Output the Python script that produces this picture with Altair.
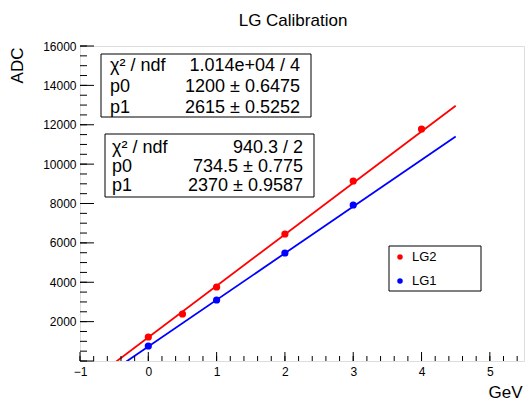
import altair as alt
import pandas as pd

# ---- data ----
lg2_x = [0, 0.5, 1, 2, 3, 4]
lg2_y = [1219, 2387, 3759, 6450, 9143, 11784]
lg1_x = [0, 1, 2, 3]
lg1_y = [762, 3098, 5486, 7924]

series_names = ["LG2", "LG1"]
series_colors = ["#ff0000", "#0000ff"]
fit_p0 = [1200, 734.5]
fit_p1 = [2615, 2370]
fit_range = [-0.5, 4.5]

stat_labels = ["χ² / ndf", "p0", "p1"]
stat_lg2 = ["1.014e+04 / 4", "1200 ± 0.6475", "2615 ± 0.5252"]
stat_lg1 = ["940.3 / 2", "734.5 ± 0.775", "2370 ± 0.9587"]

x_domain = [-1, 5.5]
y_domain = [0, 16000]
x_major = [-1, 0, 1, 2, 3, 4, 5]
x_minor = [round(-1 + 0.2 * i, 1) for i in range(33)]
y_major = [0, 2000, 4000, 6000, 8000, 10000, 12000, 14000, 16000]
y_labels = [2000, 4000, 6000, 8000, 10000, 12000, 14000, 16000]
y_minor = list(range(0, 16001, 500))

FONT = "Liberation Sans"
W, H = 444, 315

# ---- tables ----
points = pd.concat([
    pd.DataFrame({"series": "LG2", "x": lg2_x, "y": lg2_y}),
    pd.DataFrame({"series": "LG1", "x": lg1_x, "y": lg1_y}),
])
fit_rows = []
for name, a, b in zip(series_names, fit_p0, fit_p1):
    for xv in fit_range:
        fit_rows.append({"series": name, "x": xv, "y": a + b * xv})
fits = pd.DataFrame(fit_rows)

xs = alt.Scale(domain=x_domain, nice=False, zero=False)
ys = alt.Scale(domain=y_domain, nice=False, zero=False)
cs = alt.Scale(domain=series_names, range=series_colors)

x_axis = alt.Axis(values=x_major, format="d", ticks=False, domain=False, grid=False,
                  labelFlush=False, labelOverlap=False,
                  labelFont=FONT, labelFontSize=12, labelColor="black", labelPadding=5,
                  title="GeV", titleFont=FONT, titleFontSize=17, titleFontWeight="normal",
                  titleColor="black", titleX=425, titleY=31, titleAlign="center",
                  titleBaseline="middle")
y_axis = alt.Axis(values=y_labels, format="d", ticks=False, domain=False, grid=False,
                  labelFlush=False, labelOverlap=False,
                  labelFont=FONT, labelFontSize=12, labelColor="black", labelPadding=4,
                  title="ADC", titleFont=FONT, titleFontSize=17, titleFontWeight="normal",
                  titleColor="black", titleAngle=270, titleX=-63, titleY=19,
                  titleAlign="center", titleBaseline="middle")

fit_layer = alt.Chart(fits).mark_line(clip=True, strokeWidth=1.8).encode(
    x=alt.X("x:Q", scale=xs, axis=x_axis),
    y=alt.Y("y:Q", scale=ys, axis=y_axis),
    color=alt.Color("series:N", scale=cs, legend=None),
    detail="series:N",
)
pts_layer = alt.Chart(points).mark_circle(size=52, opacity=1).encode(
    x=alt.X("x:Q", scale=xs),
    y=alt.Y("y:Q", scale=ys),
    color=alt.Color("series:N", scale=cs, legend=None),
)

def yticks(vals, length):
    return alt.Chart(pd.DataFrame({"v": vals})).mark_rule(color="black", strokeWidth=1).encode(
        y=alt.Y("v:Q", scale=ys), x=alt.value(0), x2=alt.value(length))

def xticks(vals, length):
    return alt.Chart(pd.DataFrame({"v": vals})).mark_rule(color="black", strokeWidth=1).encode(
        x=alt.X("v:Q", scale=xs), y=alt.value(H), y2=alt.value(H - length))

def stat_box(x0, x1, y0, y1, labels, values, tx, vx, ty, lh):
    box = alt.Chart(pd.DataFrame({"k": [0]})).mark_rect(
        fill="white", stroke="black", strokeWidth=1).encode(
        x=alt.value(x0), x2=alt.value(x1), y=alt.value(y0), y2=alt.value(y1))
    lab = alt.Chart(pd.DataFrame({"t": ["\n".join(labels)]})).mark_text(
        align="left", baseline="alphabetic", lineBreak="\n", lineHeight=lh,
        font=FONT, fontSize=18, color="black").encode(
        x=alt.value(tx), y=alt.value(ty), text="t:N")
    val = alt.Chart(pd.DataFrame({"t": ["\n".join(values)]})).mark_text(
        align="right", baseline="alphabetic", lineBreak="\n", lineHeight=lh,
        font=FONT, fontSize=18, color="black").encode(
        x=alt.value(vx), y=alt.value(ty), text="t:N")
    return [box, lab, val]

box1 = stat_box(21, 231, 8, 71, stat_labels, stat_lg2, 30, 220, 25, 21)
box2 = stat_box(25, 234, 88, 151, stat_labels, stat_lg1, 32, 223, 107, 19)

legend_layers = [alt.Chart(pd.DataFrame({"k": [0]})).mark_rect(
    fill="white", stroke="black", strokeWidth=1).encode(
    x=alt.value(309), x2=alt.value(401), y=alt.value(200), y2=alt.value(245))]
for i, (name, col) in enumerate(zip(series_names, series_colors)):
    row = pd.DataFrame({"series": [name]})
    legend_layers.append(alt.Chart(row).mark_circle(size=30, opacity=1).encode(
        x=alt.value(320), y=alt.value(211 + 24 * i),
        color=alt.Color("series:N", scale=cs, legend=None)))
    legend_layers.append(alt.Chart(row).mark_text(
        align="left", baseline="middle", font=FONT, fontSize=13, color="black").encode(
        x=alt.value(332), y=alt.value(211 + 24 * i), text="series:N"))

chart = alt.layer(
    fit_layer, pts_layer,
    yticks(y_minor, 7), yticks(y_major, 14),
    xticks(x_minor, 5), xticks(x_major, 9),
    *box1, *box2, *legend_layers,
).properties(
    width=W, height=H,
    title=alt.TitleParams("LG Calibration", font=FONT, fontSize=17, fontWeight="normal",
                          color="black", anchor="middle", dx=-9, dy=23, offset=20,
                          baseline="alphabetic"),
    autosize=alt.AutoSizeParams(type="none"),
    padding={"left": 80, "top": 46, "right": 2, "bottom": 40},
).configure_view(stroke="black", strokeWidth=1).configure(background="white")

chart.save("out.html", embed_options={"renderer": "svg", "actions": False})
